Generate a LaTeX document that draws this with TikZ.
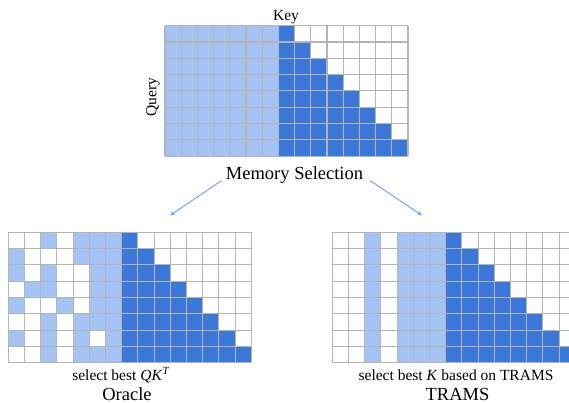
\documentclass[tikz,border=0pt]{standalone}
\usepackage{fontspec}
\setmainfont{Liberation Serif}
\usetikzlibrary{arrows.meta}
\definecolor{lightb}{HTML}{A4C2F4}
\definecolor{darkb}{HTML}{3C78D8}
\definecolor{gridc}{HTML}{B4B4B4}
\definecolor{arrowc}{HTML}{6D9EEB}
\tikzset{
  lcell/.style={fill=lightb},
  dcell/.style={fill=darkb},
  gline/.style={draw=gridc, line width=1.1pt},
  conn/.style={draw=arrowc, line width=0.9pt, -{Stealth[length=5pt,width=4pt]}},
  lbl/.style={inner sep=0pt, anchor=base, font=\fontsize{15.5}{18}\selectfont},
  biglbl/.style={inner sep=0pt, anchor=base, text depth=0pt, font=\fontsize{18.5}{22}\selectfont},
}
\newcommand\cw{16.2}
\newcommand\ch{16.3}
\newcommand\mygridlines{%
  \foreach \i in {0,...,15} {\draw[gline] (\i*\cw,0) -- (\i*\cw,8*\ch);}
  \foreach \j in {0,...,8} {\draw[gline] (0,\j*\ch) -- (15*\cw,\j*\ch);}
}
\newcommand\mydark{%
  \foreach \r in {0,...,7} {
    \pgfmathtruncatemacro\last{7+\r}
    \foreach \c in {7,...,\last} {\fill[dcell] (\c*\cw,\r*\ch) rectangle ++(\cw,\ch);}
  }
}
\begin{document}
\begin{tikzpicture}[x=1pt,y=-1pt]
\useasboundingbox (0,0) rectangle (569,403);
\clip (0,0) rectangle (569,403);
% top grid
\begin{scope}[shift={(165,25.7)}]
  \foreach \r in {0,...,7} {\foreach \c in {0,...,6} {\fill[lcell] (\c*\cw,\r*\ch) rectangle ++(\cw,\ch);}}
  \mydark
  \mygridlines
\end{scope}
% oracle grid
\begin{scope}[shift={(8.3,232.3)}]
  \foreach \r/\c in {0/2,0/4,0/5,0/6,1/0,1/4,1/5,1/6,2/0,2/2,2/5,2/6,3/1,3/2,3/5,3/6,4/0,4/3,4/5,4/6,5/2,5/4,5/5,5/6,6/0,6/2,6/4,6/6,7/2,7/4,7/5,7/6}
    {\fill[lcell] (\c*\cw,\r*\ch) rectangle ++(\cw,\ch);}
  \mydark
  \mygridlines
\end{scope}
% trams grid
\begin{scope}[shift={(332.3,232.3)}]
  \foreach \r in {0,...,7} {\foreach \c in {2,4,5,6} {\fill[lcell] (\c*\cw,\r*\ch) rectangle ++(\cw,\ch);}}
  \mydark
  \mygridlines
\end{scope}
% labels
\node[lbl] (key) at (286,20.7) {Key};
\node[inner sep=0pt, rotate=90, font=\fontsize{15.5}{18}\selectfont] (query) at (153,97) {Query};
\node[biglbl] (mem) at (294.5,180) {Memory Selection};
\node[lbl] (selo) at (121,380.2) {select best \textit{QK}\textsuperscript{\textit{T}}};
\node[biglbl] (oracle) at (127,400) {Oracle};
\node[lbl] (selt) at (456,380.2) {select best \textit{K} based on TRAMS};
\node[biglbl] (trams) at (457.5,400) {TRAMS};
% connectors
\coordinate (la) at (221.7,180.5);
\coordinate (lb) at (170,215.5);
\coordinate (ra) at (370,180.5);
\coordinate (rb) at (422,215.5);
\draw[conn] (la) -- (lb);
\draw[conn] (ra) -- (rb);
\end{tikzpicture}
\end{document}
